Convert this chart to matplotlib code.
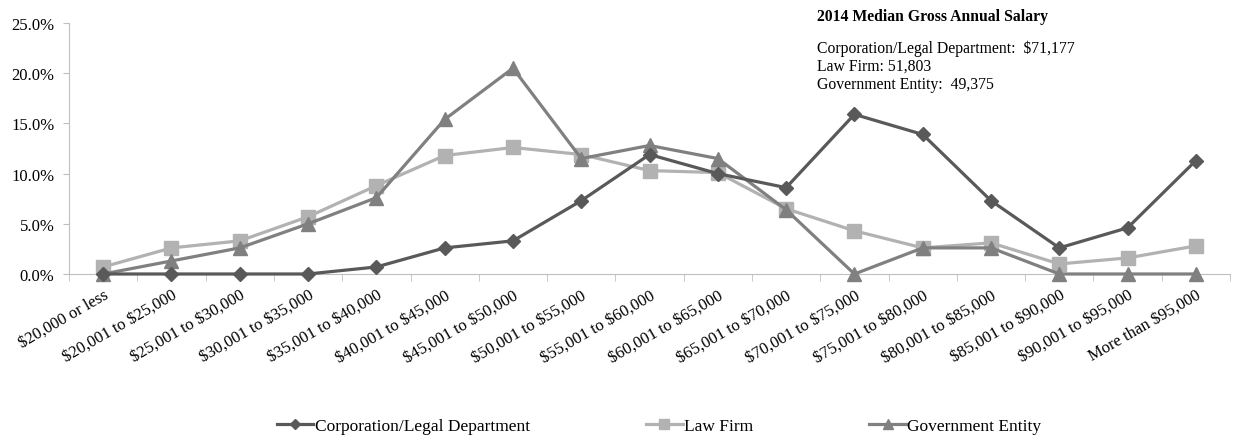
import numpy as np
import matplotlib
matplotlib.use('Agg')
import matplotlib.pyplot as plt
from matplotlib.ticker import FuncFormatter, FixedLocator

plt.rcParams['font.family'] = ['Liberation Serif', 'DejaVu Serif']
plt.rcParams['text.parse_math'] = False

# ------------------------------------------------------------
# Datos (proporcion de respondentes por rango salarial)
# ------------------------------------------------------------
categories = ['$20,000 or less', '$20,001 to $25,000', '$25,001 to $30,000',
              '$30,001 to $35,000', '$35,001 to $40,000', '$40,001 to $45,000',
              '$45,001 to $50,000', '$50,001 to $55,000', '$55,001 to $60,000',
              '$60,001 to $65,000', '$65,001 to $70,000', '$70,001 to $75,000',
              '$75,001 to $80,000', '$80,001 to $85,000', '$85,001 to $90,000',
              '$90,001 to $95,000', 'More than $95,000']

corporation = [0.0, 0.0, 0.0, 0.0, 0.7, 2.6, 3.3, 7.3, 11.9, 10.0, 8.6,
               15.9, 13.9, 7.3, 2.6, 4.6, 11.3]
law_firm = [0.7, 2.6, 3.3, 5.7, 8.8, 11.8, 12.6, 11.9, 10.3, 10.1, 6.5,
            4.3, 2.6, 3.1, 1.0, 1.6, 2.8]
government = [0.0, 1.3, 2.6, 5.0, 7.6, 15.4, 20.5, 11.5, 12.8, 11.5, 6.4,
              0.0, 2.6, 2.6, 0.0, 0.0, 0.0]

series_names = ['Corporation/Legal Department', 'Law Firm', 'Government Entity']
median_lines = ['Corporation/Legal Department:  $71,177',
                'Law Firm: 51,803',
                'Government Entity:  49,375']

# ------------------------------------------------------------
# Grafico
# ------------------------------------------------------------
fig = plt.figure(figsize=(12.33, 4.39), dpi=100)
ax = fig.add_axes([0.056, 0.3736, 0.9416, 0.5717])

x = np.arange(len(categories))
ax.plot(x, law_firm, color='#B2B2B2', lw=2.3, marker='s', ms=9.5,
        label=series_names[1], zorder=3, clip_on=False)
ax.plot(x, government, color='#808080', lw=2.3, marker='^', ms=10,
        label=series_names[2], zorder=4, clip_on=False)
ax.plot(x, corporation, color='#595959', lw=2.3, marker='D', ms=7.5,
        label=series_names[0], zorder=5, clip_on=False)

ax.set_xlim(-0.5, len(categories) - 0.5)
ax.set_ylim(0, 25)
ax.set_yticks(np.arange(0, 26, 5))
ax.yaxis.set_major_formatter(FuncFormatter(lambda v, _: f'{v:.1f}%'))

ax.set_xticks(x)
ax.set_xticklabels(categories, rotation=30, ha='right', rotation_mode='anchor')
ax.xaxis.set_minor_locator(FixedLocator(np.arange(-0.5, len(categories), 1)))
ax.tick_params(axis='x', which='major', length=0, pad=9, labelsize=12)
ax.tick_params(axis='x', which='minor', length=5, color='#BFBFBF', direction='out')
ax.tick_params(axis='y', length=4.5, color='#BFBFBF', labelsize=12, pad=6)

for side in ['top', 'right']:
    ax.spines[side].set_visible(False)
for side in ['left', 'bottom']:
    ax.spines[side].set_color('#BFBFBF')

# Caja de texto con medianas
fig.text(0.6625, 0.962, '2014 Median Gross Annual Salary', fontsize=11.3,
         fontweight='bold', ha='left', va='center')
for i, line in enumerate(median_lines):
    fig.text(0.6625, 0.888 - i * 0.0405, line, fontsize=11.3, ha='left', va='center')

handles, labels = ax.get_legend_handles_labels()
order = [2, 0, 1]
fig.legend([handles[i] for i in order], [labels[i] for i in order],
           loc='center', bbox_to_anchor=(0.5345, 0.027), ncol=3, frameon=False,
           fontsize=12.5, columnspacing=6.7, handlelength=2.1, handletextpad=0.08,
           markerscale=0.7)

plt.savefig('out.png', dpi=100)
